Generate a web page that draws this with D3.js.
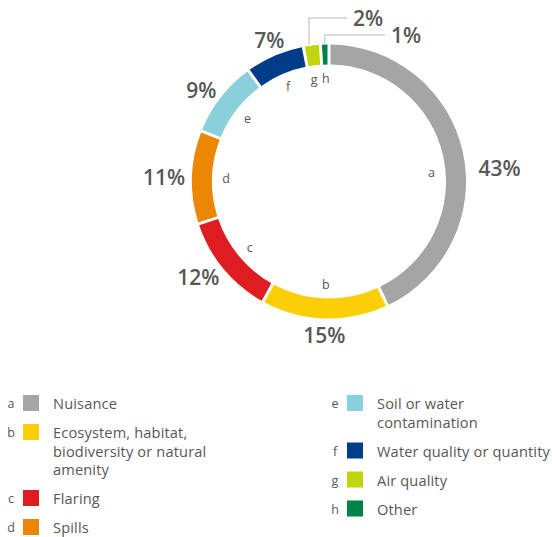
<!DOCTYPE html>
<html>
<head>
<meta charset="utf-8">
<script src="https://cdn.jsdelivr.net/npm/d3@7"></script>
<style>
  html, body { margin: 0; padding: 0; background: #fff; }
  svg { display: block; }
</style>
</head>
<body>
<svg id="chart" width="552" height="537"></svg>
<script>
// ---- data ----
const letters = ["a", "b", "c", "d", "e", "f", "g", "h"];
const categories = [
  "Nuisance",
  "Ecosystem, habitat,\nbiodiversity or natural\namenity",
  "Flaring",
  "Spills",
  "Soil or water\ncontamination",
  "Water quality or quantity",
  "Air quality",
  "Other"
];
const values = [43, 15, 12, 11, 9, 7, 2, 1];
const colors = ["#a5a5a5", "#fbce07", "#dd1d21", "#eb8705", "#89cfdc", "#003c88", "#bed50f", "#008443"];
const legendLeft = ["a", "b", "c", "d"];
const legendRight = ["e", "f", "g", "h"];

// ---- layout ----
const svg = d3.select("#chart");
const cx = 329, cy = 181.5, rOuter = 137, rInner = 117;
const textColor = "#575757";
const fontFamily = "'Open Sans', 'Noto Sans', sans-serif";

const data = letters.map((l, i) => ({ letter: l, category: categories[i], value: values[i], color: colors[i] }));

const pie = d3.pie().value(d => d.value).sort(null).startAngle(0).endAngle(2 * Math.PI);
const arcs = pie(data);
const arc = d3.arc().innerRadius(rInner).outerRadius(rOuter)
  .padAngle(3 / rOuter).padRadius(rOuter);

const g = svg.append("g").attr("transform", `translate(${cx},${cy})`);

g.selectAll("path.slice").data(arcs).join("path")
  .attr("class", "slice")
  .attr("d", arc)
  .attr("fill", d => d.data.color);

// small angular shift for some labels (as placed in the original)
const labelShift = { a: 0.13, g: -0.02 };
const midAngle = d => (d.startAngle + d.endAngle) / 2 + (labelShift[d.data.letter] || 0);
const polar = (a, r) => [r * Math.sin(a), -r * Math.cos(a)];

// inner letters
g.selectAll("text.inner").data(arcs).join("text")
  .attr("class", "inner")
  .attr("x", d => polar(midAngle(d), 103)[0])
  .attr("y", d => polar(midAngle(d), 103)[1])
  .attr("text-anchor", "middle")
  .attr("dominant-baseline", "central")
  .attr("font-family", fontFamily)
  .attr("font-size", 12.5)
  .attr("fill", textColor)
  .text(d => d.data.letter);

// percentage labels
const small = new Set(["g", "h"]);
const leaderElbowY = { g: -163.5, h: -146.5 };
const leaderEndX = { g: 18, h: 56 };

arcs.forEach(d => {
  const a = midAngle(d);
  const label = d.data.value + "%";
  if (small.has(d.data.letter)) {
    const [x0, y0] = polar(a, rOuter + 1);
    const ey = leaderElbowY[d.data.letter];
    const ex = leaderEndX[d.data.letter];
    g.append("polyline")
      .attr("points", `${x0},${y0} ${x0},${ey} ${ex},${ey}`)
      .attr("fill", "none")
      .attr("stroke", "#cfcfcf")
      .attr("stroke-width", 1.5);
    g.append("text")
      .attr("x", ex + 6)
      .attr("y", ey)
      .attr("dominant-baseline", "central")
      .attr("font-family", fontFamily)
      .attr("font-weight", 600)
      .attr("font-size", 21)
      .attr("fill", textColor)
      .text(label);
  } else {
    const [x, y] = polar(a, 150);
    const s = Math.sin(a);
    const anchor = s > 0.45 ? "start" : (s < -0.45 ? "end" : "middle");
    g.append("text")
      .attr("x", x + (anchor === "end" ? 6 : 0))
      .attr("y", y + (Math.abs(s) < 0.45 ? (Math.cos(a) > 0 ? -4 : 4) : 0))
      .attr("text-anchor", anchor)
      .attr("dominant-baseline", "central")
      .attr("font-family", fontFamily)
      .attr("font-weight", 600)
      .attr("font-size", 21)
      .attr("fill", textColor)
      .text(label);
  }
});

// ---- legend ----
function drawLegend(keys, xLetter, xSquare, xText, yStart) {
  let y = yStart;
  keys.forEach(k => {
    const d = data.find(e => e.letter === k);
    const lines = d.category.split("\n");
    svg.append("text")
      .attr("x", xLetter).attr("y", y + 13)
      .attr("text-anchor", "middle")
      .attr("font-family", fontFamily)
      .attr("font-size", 12.5)
      .attr("fill", textColor)
      .text(d.letter);
    svg.append("rect")
      .attr("x", xSquare).attr("y", y)
      .attr("width", 16).attr("height", 16)
      .attr("fill", d.color);
    const t = svg.append("text")
      .attr("x", xText).attr("y", y + 14)
      .attr("font-family", fontFamily)
      .attr("font-size", 14.6)
      .attr("letter-spacing", 0.15)
      .attr("fill", textColor);
    lines.forEach((ln, i) => {
      t.append("tspan").attr("x", xText).attr("dy", i === 0 ? 0 : 18.5).text(ln);
    });
    y += 29 + (lines.length - 1) * 18.5;
  });
}
drawLegend(legendLeft, 11, 23, 53, 395);
drawLegend(legendRight, 335, 347, 377, 395);
</script>
</body>
</html>
